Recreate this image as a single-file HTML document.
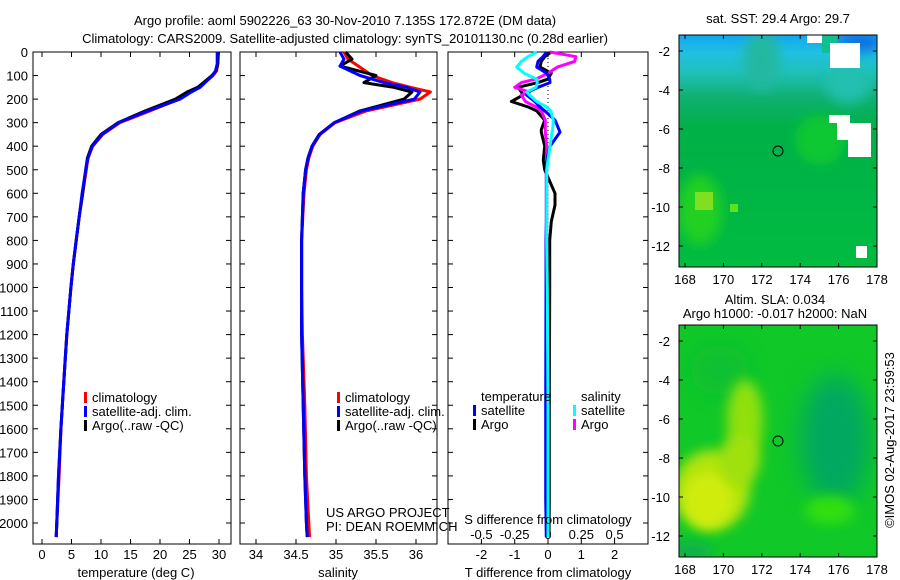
<!DOCTYPE html>
<html><head><meta charset="utf-8">
<style>
body{margin:0;background:#fff;}
svg{display:block;font-family:"Liberation Sans",sans-serif;font-size:13px;}
</style></head>
<body>
<svg id="fig" width="900" height="580" viewBox="0 0 900 580">
<defs>
<filter id="blur1" x="-50%" y="-50%" width="200%" height="200%"><feGaussianBlur stdDeviation="6"/></filter>
<filter id="blur2" x="-50%" y="-50%" width="200%" height="200%"><feGaussianBlur stdDeviation="12"/></filter>
<linearGradient id="sstg" x1="0" y1="0" x2="0" y2="1">
<stop offset="0" stop-color="#10a8f0"/><stop offset="0.08" stop-color="#20c0e0"/><stop offset="0.16" stop-color="#20c0b8"/><stop offset="0.27" stop-color="#10b070"/><stop offset="0.4" stop-color="#00b048"/><stop offset="1" stop-color="#00bc40"/>
</linearGradient>
<clipPath id="c1"><rect x="679" y="35" width="198" height="232"/></clipPath>
<clipPath id="c2"><rect x="679" y="325" width="198" height="232"/></clipPath>
</defs>
<text x="345" y="25" text-anchor="middle">Argo profile: aoml 5902226_63 30-Nov-2010 7.135S 172.872E (DM data)</text>
<text x="345" y="43" text-anchor="middle">Climatology: CARS2009. Satellite-adjusted climatology: synTS_20101130.nc (0.28d earlier)</text>

<g>
<g clip-path="url(#c1)">
<rect x="679" y="35" width="198" height="232" fill="url(#sstg)"/>
<ellipse cx="762" cy="60" rx="18" ry="30" fill="#20b8a0" filter="url(#blur1)"/>
<ellipse cx="860" cy="42" rx="22" ry="10" fill="#1070e0" filter="url(#blur1)"/>
<ellipse cx="848" cy="85" rx="22" ry="18" fill="#20c0b0" filter="url(#blur1)"/>
<ellipse cx="700" cy="210" rx="22" ry="35" fill="#20d020" filter="url(#blur1)"/>
<ellipse cx="820" cy="140" rx="25" ry="25" fill="#10c830" filter="url(#blur1)"/>
<rect x="695" y="192" width="18" height="18" fill="#80e020"/>
<rect x="730" y="204" width="8" height="8" fill="#60e020"/>
<rect x="807" y="35" width="15" height="8" fill="#fff"/>
<rect x="822" y="35" width="15" height="18" fill="#10c090"/>
<rect x="830" y="43" width="30" height="25" fill="#fff"/>
<rect x="829" y="115" width="21" height="8" fill="#fff"/>
<rect x="837" y="123" width="34" height="17" fill="#fff"/>
<rect x="848" y="140" width="23" height="17" fill="#fff"/>
<rect x="856" y="246" width="11" height="12" fill="#fff"/>
</g>
<rect x="679" y="35" width="198" height="232" fill="none" stroke="#000"/>
<circle cx="778" cy="151" r="5" fill="none" stroke="#000"/>
<text x="778" y="23" text-anchor="middle">sat. SST: 29.4  Argo: 29.7</text>
<g id="map1axes"></g>
</g>

<g>
<g clip-path="url(#c2)">
<rect x="679" y="325" width="198" height="232" fill="#10c828"/>
<ellipse cx="835" cy="440" rx="35" ry="65" fill="#00a860" filter="url(#blur2)"/>
<ellipse cx="720" cy="370" rx="30" ry="25" fill="#10c030" filter="url(#blur2)"/>
<ellipse cx="745" cy="420" rx="18" ry="40" fill="#90e010" filter="url(#blur1)"/>
<ellipse cx="712" cy="490" rx="38" ry="40" fill="#b0e410" filter="url(#blur1)"/>
<ellipse cx="708" cy="500" rx="25" ry="28" fill="#d0ec10" filter="url(#blur1)"/>
<ellipse cx="740" cy="460" rx="20" ry="25" fill="#a0e010" filter="url(#blur1)"/>
<ellipse cx="830" cy="510" rx="25" ry="14" fill="#30e010" filter="url(#blur1)"/>
<ellipse cx="690" cy="552" rx="22" ry="10" fill="#10b050" filter="url(#blur1)"/>
</g>
<rect x="679" y="325" width="198" height="232" fill="none" stroke="#000"/>
<circle cx="778" cy="441" r="5" fill="none" stroke="#000"/>
<text x="775" y="304" text-anchor="middle">Altim. SLA: 0.034</text>
<text x="775" y="318" text-anchor="middle">Argo h1000: -0.017 h2000: NaN</text>
<g id="map2axes"></g>
</g>
<text transform="translate(894,440) rotate(-90)" text-anchor="middle">©IMOS 02-Aug-2017 23:59:53</text>

<g id="plots"></g>
</svg>
<script>
// ---- data ----
var depthT = [0,50,80,100,150,170,200,250,300,350,400,450,500,600,700,800,900,1000,1200,1400,1600,1800,2000,2060];
var tempClim = [29.8,29.8,29.6,29.0,26.6,25.0,23.2,18.3,13.2,10.3,8.6,7.8,7.5,6.9,6.3,5.8,5.3,4.9,4.2,3.7,3.2,2.9,2.5,2.4];
var tempSat = [29.7,29.7,29.4,28.9,26.8,25.3,23.4,18.0,13.0,10.2,8.5,7.8,7.4,6.8,6.3,5.8,5.3,4.9,4.2,3.7,3.2,2.8,2.5,2.4];
var tempArgo = [29.9,29.8,29.5,28.8,26.4,24.6,22.6,17.5,12.9,10.0,8.4,7.7,7.4,6.9,6.3,5.8,5.3,4.9,4.2,3.7,3.2,2.8,2.5,2.4];
var depthS = [0,30,60,100,130,150,170,200,250,300,350,400,450,500,600,800,1000,1200,1500,1800,2000,2060];
var salClim = [35.10,35.15,35.28,35.45,35.70,35.93,36.18,36.05,35.38,34.99,34.80,34.71,34.66,34.63,34.60,34.57,34.57,34.58,34.61,34.63,34.66,34.67];
var salSat = [35.05,35.10,35.05,35.30,35.60,35.88,36.05,35.98,35.32,34.98,34.80,34.70,34.65,34.62,34.59,34.57,34.57,34.57,34.59,34.61,34.63,34.64];
var salArgo = [35.12,35.20,35.05,35.50,35.35,35.72,35.95,35.85,35.30,34.98,34.79,34.70,34.65,34.62,34.59,34.57,34.57,34.57,34.59,34.61,34.63,34.64];
var depthD = [0,20,40,64,90,115,130,150,170,183,210,233,250,289,330,340,400,459,500,600,650,720,800,1000,1500,1900,2060];
var dTsat = [-0.04,-0.15,-0.3,-0.34,-0.04,0.05,0.06,-0.3,-0.6,-0.64,-0.4,-0.24,-0.1,0.21,0.33,0.36,0.06,-0.04,-0.05,-0.05,-0.05,-0.05,-0.06,-0.06,-0.07,-0.07,-0.05];
var dTargo = [0.1,-0.1,-0.2,-0.24,0.1,0.0,-0.3,-0.9,-0.8,-0.75,-1.1,-0.6,-0.34,-0.1,-0.2,-0.2,-0.1,-0.14,-0.1,0.21,0.21,0.1,0.05,0.05,0.04,0.04,0.03];
var dSsat = [-0.085,-0.15,-0.2,-0.235,-0.18,-0.085,-0.08,-0.09,-0.16,-0.14,-0.085,-0.01,0.02,0.04,0.035,0.03,0.015,0.0,-0.01,-0.01,-0.01,-0.01,-0.01,-0.005,0.0,0.0,0.0];
var dSargo = [0.015,0.21,0.2,0.07,0.0,-0.09,-0.2,-0.25,-0.14,-0.2,-0.17,-0.09,-0.05,-0.02,-0.02,-0.02,-0.01,-0.01,-0.01,-0.01,-0.01,-0.01,-0.01,-0.01,-0.01,-0.01,-0.01];
var depthTicks = [0,100,200,300,400,500,600,700,800,900,1000,1100,1200,1300,1400,1500,1600,1700,1800,1900,2000];
var tempTicks = [0,5,10,15,20,25,30];
var salTicks = [34,34.5,35,35.5,36];
var tdTicks = [-2,-1,0,1,2];
var sdTicks = [-0.5,-0.25,0,0.25,0.5];
var lonTicks = [168,170,172,174,176,178];
var latTicks = [-2,-4,-6,-8,-10,-12];

// ---- scales ----
var NS = 'http://www.w3.org/2000/svg';
var root = document.getElementById('plots');
function yD(d){ return 52 + d*0.2355; }
function xT(t){ return 42 + t*5.9; }
function xS(s){ return 256 + (s-34)*80; }
function xDT(t){ return 548 + t*33.3; }
function xDS(s){ return 548 + s*133.2; }
function mk(tag, attrs, parent){
  var e = document.createElementNS(NS, tag);
  for (var k in attrs) e.setAttribute(k, attrs[k]);
  (parent||root).appendChild(e); return e;
}
function line(xs, ds, xf, color, name){
  var p = '';
  for (var i=0;i<xs.length;i++) p += (i?'L':'M') + xf(xs[i]).toFixed(1) + ',' + yD(ds[i]).toFixed(1);
  var el = mk('path', {d:p, fill:'none', stroke:color, 'stroke-width':3, 'stroke-linejoin':'round'});
  
  
}
function box(x0,x1,name){
  var r = mk('rect',{x:x0,y:52,width:x1-x0,height:492,fill:'none',stroke:'#000'});
  
  
}
function txt(x,y,s,anchor,parent){
  var t = mk('text',{x:x,y:y,'text-anchor':anchor||'start'},parent); t.textContent = s; return t;
}
function xticks(vals, f, y0, y1, labY, fmt){
  vals.forEach(function(v){
    var x = f(v);
    mk('line',{x1:x,y1:544,x2:x,y2:539,stroke:'#000'});
    mk('line',{x1:x,y1:52,x2:x,y2:57,stroke:'#000'});
    var t = txt(x, labY, fmt?fmt(v):String(v), 'middle');
    
    
  });
}
function ydepthticks(x0,x1,labels){
  depthTicks.forEach(function(d){
    var y = yD(d);
    mk('line',{x1:x0,y1:y,x2:x0+5,y2:y,stroke:'#000'});
    mk('line',{x1:x1,y1:y,x2:x1-5,y2:y,stroke:'#000'});
    if (labels){
      var t = txt(28, y+5, String(d), 'end');
      
      
    }
  });
}
function legEntry(x,y,color,label){
  mk('rect',{x:x,y:y-10,width:3,height:11,fill:color});
  var t = txt(x+8, y, label);
  
  
}

// panel 1 temperature
box(33,231,'temperature-panel');
ydepthticks(33,231,true);
xticks(tempTicks, xT, 544, 539, 559);
line(tempClim, depthT, xT, '#ff0000', 'temp-climatology-line');
line(tempArgo, depthT, xT, '#000000', 'temp-argo-line');
line(tempSat, depthT, xT, '#0000ff', 'temp-satellite-line');
var l = txt(136, 577, 'temperature (deg C)', 'middle');  
legEntry(84,402,'#ff0000','climatology');
legEntry(84,416,'#0000ff','satellite-adj. clim.');
legEntry(84,430,'#000000','Argo(..raw -QC)');

// panel 2 salinity
box(240,437,'salinity-panel');
ydepthticks(240,437,false);
xticks(salTicks, xS, 544, 539, 559);
line(salClim, depthS, xS, '#ff0000', 'sal-climatology-line');
line(salArgo, depthS, xS, '#000000', 'sal-argo-line');
line(salSat, depthS, xS, '#0000ff', 'sal-satellite-line');
l = txt(338, 577, 'salinity', 'middle');  
legEntry(337,402,'#ff0000','climatology');
legEntry(337,416,'#0000ff','satellite-adj. clim.');
legEntry(337,430,'#000000','Argo(..raw -QC)');
l = txt(326, 517, 'US ARGO PROJECT');  
l = txt(326, 531, 'PI: DEAN ROEMMICH');  

// panel 3 differences
box(448,648,'difference-panel');
ydepthticks(448,648,false);
for (var yy=54; yy<540; yy+=4) mk('rect',{x:547.5,y:yy,width:1,height:1,fill:'#000'});
xticks(tdTicks, xDT, 544, 539, 559);
sdTicks.forEach(function(v){
  var t = txt(xDS(v), 539, String(v), 'middle');
  
  
});
line(dTargo, depthD, xDT, '#000000', 'tdiff-argo-line');
line(dSargo, depthD, xDS, '#ff00ff', 'sdiff-argo-line');
line(dTsat, depthD, xDT, '#0000ff', 'tdiff-satellite-line');
line(dSsat, depthD, xDS, '#00ffff', 'sdiff-satellite-line');
l = txt(548, 524, 'S difference from climatology', 'middle');  
l = txt(548, 577, 'T difference from climatology', 'middle');  
l = txt(481, 401, 'temperature');  
l = txt(581, 401, 'salinity');  
legEntry(473,415,'#0000ff','satellite');
legEntry(473,429,'#000000','Argo');
legEntry(573,415,'#00ffff','satellite');
legEntry(573,429,'#ff00ff','Argo');

// map axes
function mapAxes(gid, top, bottom, lat0y){
  var g = document.getElementById(gid);
  lonTicks.forEach(function(v){
    var x = 685 + (v-168)*19.2;
    mk('line',{x1:x,y1:bottom,x2:x,y2:bottom-4,stroke:'#000'},g);
    mk('line',{x1:x,y1:top,x2:x,y2:top+4,stroke:'#000'},g);
    var t = txt(x, bottom+17, String(v), 'middle', g);
    
    
  });
  latTicks.forEach(function(v){
    var y = lat0y + (-2-v)*19.5;
    mk('line',{x1:679,y1:y,x2:683,y2:y,stroke:'#000'},g);
    mk('line',{x1:877,y1:y,x2:873,y2:y,stroke:'#000'},g);
    var t = txt(670, y+5, String(v), 'end', g);
    
    
  });
}
mapAxes('map1axes', 35, 267, 51);
mapAxes('map2axes', 325, 557, 341);
</script>
</body></html>
